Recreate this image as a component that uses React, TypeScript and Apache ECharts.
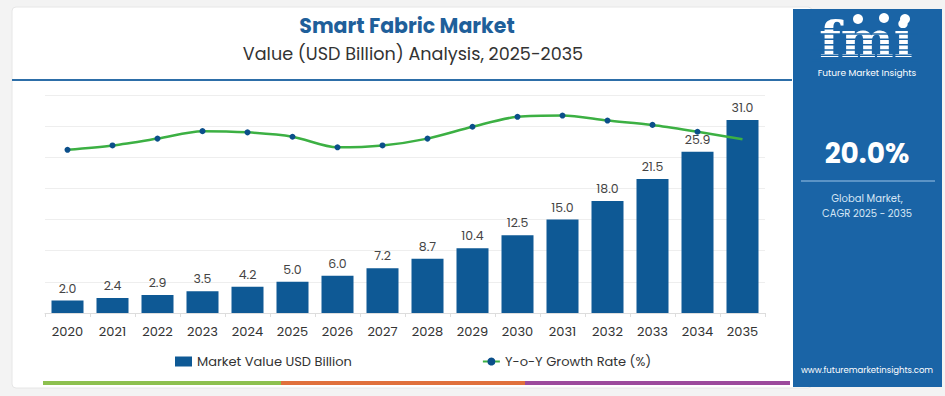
import React, { useEffect, useRef } from "react";
import * as echarts from "echarts";

const years = ["2020","2021","2022","2023","2024","2025","2026","2027","2028","2029","2030","2031","2032","2033","2034","2035"];
const marketValue = [2.0, 2.4, 2.9, 3.5, 4.2, 5.0, 6.0, 7.2, 8.7, 10.4, 12.5, 15.0, 18.0, 21.5, 25.9, 31.0];
const growthRate = [26.2, 26.9, 28.0, 29.2, 29.0, 28.3, 26.6, 26.9, 28.0, 29.9, 31.5, 31.7, 30.9, 30.2, 29.1, 27.9];
const titleText = "Smart Fabric Market";
const subtitleText = "Value (USD Billion) Analysis, 2025-2035";
const cagrText = "20.0%";
const legendNames = ["Market Value USD Billion", "Y-o-Y Growth Rate (%)"];

const FONT = "Poppins, Inter, 'Noto Sans', sans-serif";

export default function App() {
  const ref = useRef<HTMLDivElement>(null);
  useEffect(() => {
    if (!ref.current) return;
    const chart = echarts.init(ref.current, undefined, { renderer: "svg" });
    const panel = "#1a64a6";
    const stripes: any[] = [];
    for (let i = 0; i < 7; i++) {
      stripes.push({ type: "rect", shape: { x: 812, y: 28 + i * 5.3, width: 106, height: 1.5 }, style: { fill: panel }, z: 12 });
    }
    chart.setOption({
      animation: false,
      backgroundColor: "#f3f3f3",
      textStyle: { fontFamily: FONT },
      grid: { left: 45, top: 95, width: 720, height: 218 },
      legend: {
        left: 170,
        top: 350,
        itemGap: 130,
        itemWidth: 17,
        itemHeight: 10,
        textStyle: { fontSize: 13, color: "#333", fontFamily: FONT },
        data: [
          { name: legendNames[0], icon: "rect" },
          { name: legendNames[1] },
        ],
      },
      xAxis: {
        type: "category",
        data: years,
        axisLine: { lineStyle: { color: "#dddddd" } },
        axisTick: { show: true, lineStyle: { color: "#dddddd" }, length: 4 },
        axisLabel: { fontSize: 13, color: "#333", margin: 12, fontFamily: FONT },
      },
      yAxis: [
        {
          type: "value",
          min: 0,
          max: 35,
          interval: 5,
          axisLabel: { show: false },
          axisLine: { show: false },
          axisTick: { show: false },
          splitLine: { lineStyle: { color: "#eeeeee" } },
        },
        {
          type: "value",
          min: 0,
          max: 35,
          show: false,
          splitLine: { show: false },
        },
      ],
      series: [
        {
          name: legendNames[0],
          type: "bar",
          data: marketValue,
          barWidth: 32,
          itemStyle: { color: "#0e5995" },
          label: {
            show: true,
            position: "top",
            distance: 6,
            fontSize: 12.5,
            color: "#444",
            fontFamily: FONT,
            formatter: (p: any) => Number(p.value).toFixed(1),
          },
          z: 2,
        },
        {
          name: legendNames[1],
          type: "line",
          yAxisIndex: 1,
          data: growthRate.map((v, i) =>
            i === growthRate.length - 1 ? { value: v, symbol: "none" } : v
          ),
          smooth: 0.3,
          symbol: "circle",
          symbolSize: 6,
          lineStyle: { color: "#3cb043", width: 2.5 },
          itemStyle: { color: "#0b4f8a" },
          z: 3,
        },
      ],
      graphic: [
        { type: "rect", shape: { x: 12, y: 7, width: 800, height: 381, r: 4 }, style: { fill: "#ffffff", stroke: "#e6e6e6", lineWidth: 1 }, z: -10, silent: true },
        { type: "text", x: 407, y: 25, style: { text: titleText, fill: "#1f5f9a", font: `bold 20.5px ${FONT}`, align: "center", verticalAlign: "middle" }, z: 10 },
        { type: "text", x: 413, y: 54, style: { text: subtitleText, fill: "#333", font: `17.6px ${FONT}`, align: "center", verticalAlign: "middle" }, z: 10 },
        { type: "line", shape: { x1: 12, y1: 80, x2: 792, y2: 80 }, style: { stroke: "#2d6ea8", lineWidth: 2 }, z: 10 },
        { type: "rect", shape: { x: 43, y: 381, width: 238, height: 4 }, style: { fill: "#8dc04f" }, z: 10 },
        { type: "rect", shape: { x: 281, y: 381, width: 244, height: 4 }, style: { fill: "#e0703c" }, z: 10 },
        { type: "rect", shape: { x: 525, y: 381, width: 265, height: 4 }, style: { fill: "#9c4a9c" }, z: 10 },
        { type: "rect", shape: { x: 793, y: 9, width: 149, height: 378 }, style: { fill: panel }, z: 10 },
        { type: "text", x: 866, y: 39, style: { text: "fmi", fill: "#ffffff", font: `bold 50px 'DejaVu Serif', serif`, align: "center", verticalAlign: "middle" }, z: 11 },
        ...stripes,
        { type: "circle", shape: { cx: 858, cy: 19, r: 5 }, style: { fill: "#ffffff" }, z: 13 },
        { type: "circle", shape: { cx: 884, cy: 18, r: 5 }, style: { fill: "#ffffff" }, z: 13 },
        { type: "circle", shape: { cx: 905, cy: 19, r: 5 }, style: { fill: "#ffffff" }, z: 13 },
        { type: "text", x: 867, y: 73, style: { text: "Future Market Insights", fill: "#ffffff", font: `9px ${FONT}`, align: "center", verticalAlign: "middle" }, z: 11 },
        { type: "text", x: 867, y: 153, style: { text: cagrText, fill: "#ffffff", font: `bold 28px ${FONT}`, align: "center", verticalAlign: "middle" }, z: 11 },
        { type: "line", shape: { x1: 801, y1: 181, x2: 935, y2: 181 }, style: { stroke: "#9cc3e6", lineWidth: 1 }, z: 11 },
        { type: "text", x: 867, y: 198, style: { text: "Global Market,", fill: "#d6e6f5", font: `10px ${FONT}`, align: "center", verticalAlign: "middle" }, z: 11 },
        { type: "text", x: 867, y: 213, style: { text: "CAGR 2025 - 2035", fill: "#d6e6f5", font: `10px ${FONT}`, align: "center", verticalAlign: "middle" }, z: 11 },
        { type: "text", x: 867, y: 370, style: { text: "www.futuremarketinsights.com", fill: "#ffffff", font: `8.5px ${FONT}`, align: "center", verticalAlign: "middle" }, z: 11 },
      ],
    });
    return () => chart.dispose();
  }, []);
  return <div ref={ref} style={{ position: "absolute", left: 0, top: 0, width: 945, height: 396 }} />;
}
